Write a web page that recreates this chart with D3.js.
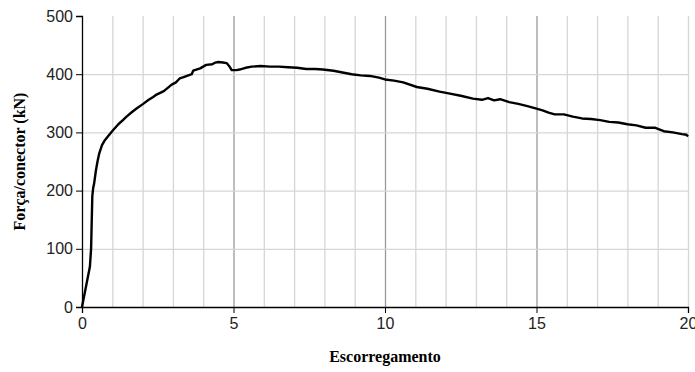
<!DOCTYPE html>
<html>
<head>
<meta charset="utf-8">
<title>Escorregamento</title>
<script src="https://d3js.org/d3.v7.min.js"></script>
<style>
  body { margin: 0; background: #fff; }
  .tick text { font-family: "Liberation Sans", Arial, sans-serif; font-size: 16px; fill: #222; }
  .title { font-family: "Liberation Serif", "Times New Roman", serif; font-weight: bold; font-size: 16px; }
</style>
</head>
<body>
<div id="chart"></div>
<script>
// slip (mm) and force per connector (kN)
var slip = [0, 0.26, 0.3, 0.34, 0.37, 0.4, 0.46, 0.52, 0.57, 0.66, 0.76, 0.9, 1.03, 1.2, 1.35, 1.47,
  1.65, 1.8, 2.02, 2.2, 2.35, 2.46, 2.7, 2.96, 3.1, 3.23, 3.4, 3.62, 3.67, 3.9, 4.1, 4.3, 4.4, 4.5,
  4.65, 4.78, 4.87, 4.94, 5.1, 5.2, 5.4, 5.6, 5.9, 6.2, 6.5, 6.8, 7.1, 7.4, 7.7, 7.95, 8.3, 8.6,
  8.9, 9.2, 9.5, 9.8, 10.0, 10.3, 10.6, 11.05, 11.4, 11.8, 12.1, 12.5, 12.9, 13.2, 13.4, 13.6,
  13.8, 14.1, 14.4, 14.7, 15.0, 15.2, 15.4, 15.6, 15.9, 16.2, 16.5, 16.8, 17.1, 17.4, 17.7, 18.0,
  18.3, 18.6, 18.9, 19.2, 19.5, 19.8, 19.95, 20.0];
var force = [0, 69, 100, 190, 205, 212, 235, 252, 264, 278, 287, 296, 304, 314, 321, 327,
  335, 341, 349, 356, 361, 365, 371, 382, 386, 393, 396, 400, 406, 410, 416, 417, 420, 421,
  420, 419, 413, 407, 407, 408, 411, 413, 414, 413, 413, 412, 411, 409, 409, 408, 406, 403,
  400, 398, 397, 394, 391, 389, 386, 378, 375, 370, 367, 363, 358, 356, 359, 355,
  357, 352, 349, 345, 341, 338, 334, 331, 331, 327, 324, 323, 321, 318, 317, 314,
  312, 308, 308, 302, 300, 297, 296, 293];

var xTicks = [0, 5, 10, 15, 20];
var yTicks = [0, 100, 200, 300, 400, 500];

var width = 695, height = 372;
var margin = {left: 82, right: 7, top: 16, bottom: 65};

var svg = d3.select("#chart").append("svg")
  .attr("width", width)
  .attr("height", height);

var x = d3.scaleLinear().domain([0, 20]).range([margin.left, width - margin.right]);
var y = d3.scaleLinear().domain([0, 500]).range([height - margin.bottom, margin.top]);

// grid
svg.append("g").selectAll("line")
  .data(d3.range(1, 21))
  .enter().append("line")
    .attr("x1", function(d) { return x(d) + 0.5; })
    .attr("x2", function(d) { return x(d) + 0.5; })
    .attr("y1", y(0))
    .attr("y2", y(500))
    .attr("stroke", function(d) { return d % 5 == 0 && d < 20 ? "#9a9a9a" : "#d6d6d6"; })
    .attr("stroke-width", 1.3);

svg.append("g").selectAll("line")
  .data([100, 200, 300, 400])
  .enter().append("line")
    .attr("x1", x(0))
    .attr("x2", x(20))
    .attr("y1", function(d) { return y(d) + 0.5; })
    .attr("y2", function(d) { return y(d) + 0.5; })
    .attr("stroke", "#d6d6d6")
    .attr("stroke-width", 1.3);

// axes
var xAxis = svg.append("g")
  .attr("transform", "translate(0," + y(0) + ")")
  .call(d3.axisBottom(x).tickValues(xTicks).tickSize(6).tickPadding(5).tickFormat(d3.format("d")));
var yAxis = svg.append("g")
  .attr("transform", "translate(" + x(0) + ",0)")
  .call(d3.axisLeft(y).tickValues(yTicks).tickSize(6).tickPadding(3).tickFormat(d3.format("d")));

[xAxis, yAxis].forEach(function(a) {
  a.select(".domain").attr("stroke", "#000").attr("stroke-width", 1.3);
  a.selectAll(".tick line").attr("stroke", "#000");
});

// curve
var pts = slip.map(function(d, i) { return [d, force[i]]; });
svg.append("path")
  .datum(pts)
  .attr("fill", "none")
  .attr("stroke", "#000")
  .attr("stroke-width", 2.4)
  .attr("stroke-linejoin", "round")
  .attr("d", d3.line().x(function(d) { return x(d[0]); }).y(function(d) { return y(d[1]); }));

// titles
svg.append("text")
  .attr("class", "title")
  .attr("x", x(10))
  .attr("y", 362)
  .attr("text-anchor", "middle")
  .text("Escorregamento");

svg.append("text")
  .attr("class", "title")
  .attr("transform", "translate(25," + y(250) + ") rotate(-90)")
  .attr("text-anchor", "middle")
  .text("Força/conector (kN)");
</script>
</body>
</html>
